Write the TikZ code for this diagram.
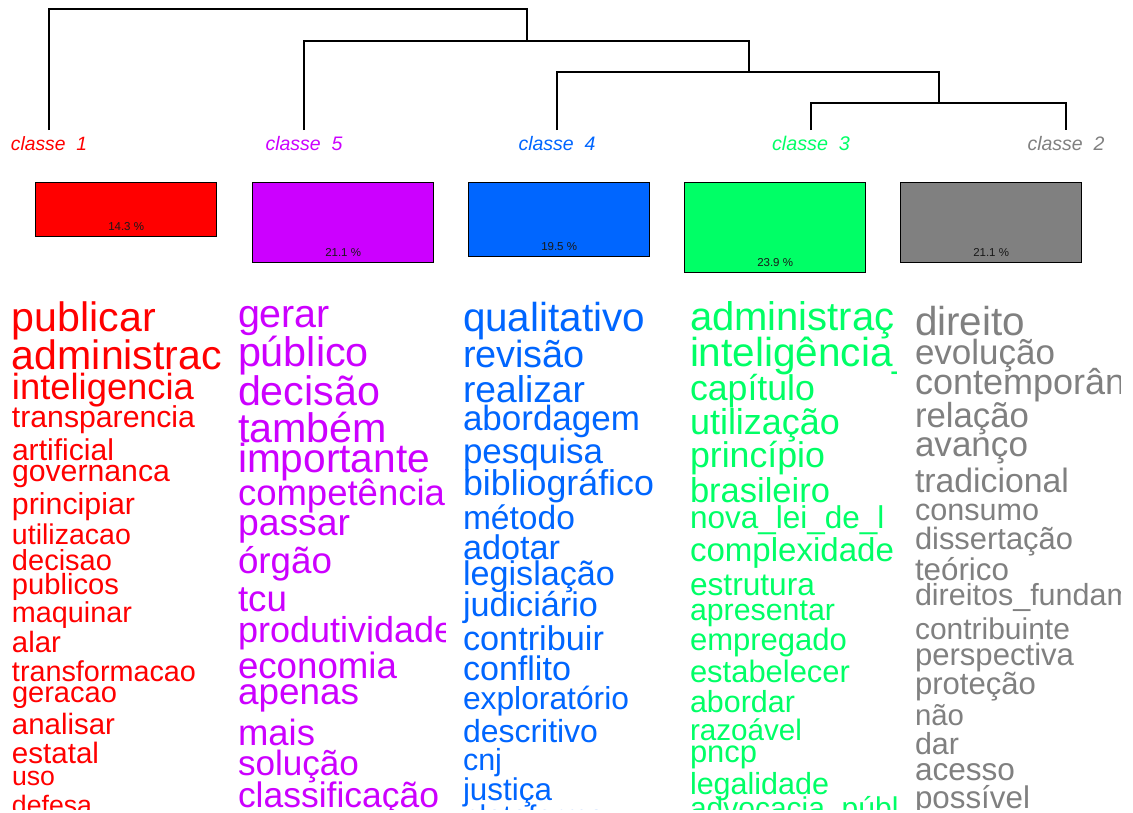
\documentclass[tikz,border=0pt]{standalone}
\usepackage{fontspec}
\setmainfont{Liberation Sans}
\usepackage{graphicx}
\definecolor{c1}{HTML}{FF0000}
\definecolor{c5}{HTML}{CC00FF}
\definecolor{c4}{HTML}{0066FF}
\definecolor{c3}{HTML}{00FF66}
\definecolor{c2}{HTML}{808080}
\newcommand\wrd[5]{\node[word] (#1) at (#2,#3) {\resizebox{#4pt}{!}{#5}};}
\newcommand\wrs[5]{\node[word] (#1) at (#2,#3) {\fontsize{#4}{#4}\selectfont #5};}
\begin{document}
\begin{tikzpicture}[x=1pt,y=-1pt,
  word/.style={inner sep=0pt, outer sep=0pt, anchor=base west, font=\fontsize{20}{24}\selectfont},
  box/.style={draw=black, line width=1.3pt, anchor=north west, inner sep=0pt, minimum width=181pt},
  pct/.style={inner sep=0pt, text=black!90, font=\fontsize{11.5}{12}\selectfont},
  lbl/.style={inner sep=0pt, anchor=base, font=\itshape\fontsize{18}{18}\selectfont},
  dendro/.style={line width=1.3pt, draw=black}]
\fill[white] (0,0) rectangle (1133,812);
\useasboundingbox (0,0) rectangle (1133,812);

% ---- dendrogram ----
\node[lbl,text=c1] (lab1) at (49,150) {\resizebox{76pt}{!}{classe\ \ 1}};
\node[lbl,text=c5] (lab5) at (304,150) {\resizebox{77pt}{!}{classe\ \ 5}};
\node[lbl,text=c4] (lab4) at (557,150) {\resizebox{77pt}{!}{classe\ \ 4}};
\node[lbl,text=c3] (lab3) at (811,150) {\resizebox{78pt}{!}{classe\ \ 3}};
\node[lbl,text=c2] (lab2) at (1066,150) {\resizebox{77pt}{!}{classe\ \ 2}};
\coordinate (t1) at (49,130);
\coordinate (t5) at (304,130);
\coordinate (t4) at (557,130);
\coordinate (t3) at (811,130);
\coordinate (t2) at (1066,130);
\coordinate (jA) at (939,103);
\coordinate (jB) at (749,72);
\coordinate (jC) at (527,41);
\coordinate (jD) at (288,9);
\draw[dendro] (t3) |- (jA) -| (t2);
\draw[dendro] (t4) |- (jB) -| (jA);
\draw[dendro] (t5) |- (jC) -| (jB);
\draw[dendro] (t1) |- (jD) -| (jC);

% ---- boxes ----
\node[box, fill=c1, minimum height=54pt] (box1) at (35,182) {};
\node[box, fill=c5, minimum height=80pt] (box5) at (252,182) {};
\node[box, fill=c4, minimum height=74pt] (box4) at (468,182) {};
\node[box, fill=c3, minimum height=90pt] (box3) at (684,182) {};
\node[box, fill=c2, minimum height=80pt] (box2) at (900,182) {};
\node[pct] (p1) at ([yshift=11pt]box1.south) {14.3 \%};
\node[pct] (p5) at ([yshift=11pt]box5.south) {21.1 \%};
\node[pct] (p4) at ([yshift=11pt]box4.south) {19.5 \%};
\node[pct] (p3) at ([yshift=11pt]box3.south) {23.9 \%};
\node[pct] (p2) at ([yshift=11pt]box2.south) {21.1 \%};

% ---- classe 1 words ----
\begin{scope}[text=c1]
\clip (0,285) rectangle (221,809);
\wrd{r1}{12}{331}{144}{publicar}
\wrd{r2}{12}{369}{210}{administrac}
\wrd{r3}{12}{399}{182}{inteligencia}
\wrd{r4}{12}{427}{183}{transparencia}
\wrd{r5}{12}{460}{102}{artificial}
\wrd{r6}{12}{481}{158}{governanca}
\wrd{r7}{12}{514}{123}{principiar}
\wrd{r8}{12}{544}{119}{utilizacao}
\wrd{r9}{12}{570}{100}{decisao}
\wrd{r10}{12}{594}{107}{publicos}
\wrd{r11}{12}{622}{120}{maquinar}
\wrd{r12}{12}{652}{49}{alar}
\wrd{r13}{12}{681}{184}{transformacao}
\wrd{r14}{12}{702}{105}{geracao}
\wrd{r15}{12}{734}{103}{analisar}
\wrd{r16}{12}{763}{87}{estatal}
\wrd{r17}{12}{785}{43}{uso}
\wrd{r18}{12}{814}{80}{defesa}
\end{scope}

% ---- classe 5 words ----
\begin{scope}[text=c5]
\clip (230,285) rectangle (445,809);
\wrd{v1}{238}{327}{92}{gerar}
\wrd{v2}{238}{366}{131}{público}
\wrd{v3}{238}{405}{142}{decisão}
\wrd{v4}{238}{442}{149}{também}
\wrd{v5}{238}{472}{192}{importante}
\wrd{v6}{238}{505}{207}{competência}
\wrd{v7}{238}{535}{112}{passar}
\wrd{v8}{238}{573}{94}{órgão}
\wrd{v9}{238}{611}{49}{tcu}
\wrs{v10}{238}{642}{36}{produtividade}
\wrd{v11}{238}{678}{159}{economia}
\wrd{v12}{238}{704}{121}{apenas}
\wrd{v13}{238}{745}{77}{mais}
\wrd{v14}{238}{775}{121}{solução}
\wrd{v15}{238}{807}{201}{classificação}
\end{scope}

% ---- classe 4 words ----
\begin{scope}[text=c4]
\clip (455,285) rectangle (670,809);
\wrd{b1}{463}{331}{182}{qualitativo}
\wrd{b2}{463}{367}{122}{revisão}
\wrd{b3}{463}{402}{122}{realizar}
\wrd{b4}{463}{430}{177}{abordagem}
\wrd{b5}{463}{463}{140}{pesquisa}
\wrd{b6}{463}{495}{191}{bibliográfico}
\wrd{b7}{463}{529}{112}{método}
\wrd{b8}{463}{559}{97}{adotar}
\wrd{b9}{463}{585}{152}{legislação}
\wrd{b10}{463}{616}{135}{judiciário}
\wrd{b11}{463}{650}{141}{contribuir}
\wrd{b12}{463}{680}{108}{conflito}
\wrd{b13}{463}{709}{166}{exploratório}
\wrd{b14}{463}{742}{135}{descritivo}
\wrd{b15}{463}{770}{39}{cnj}
\wrd{b16}{463}{800}{89}{justiça}
\wrs{b17}{463}{826}{30}{plataforma}
\end{scope}

% ---- classe 3 words ----
\begin{scope}[text=c3]
\clip (682,285) rectangle (896,809);
\wrs{g1}{690}{330}{40}{administraç}
\wrs{g2}{690}{366}{40.5}{inteligência\_}
\wrd{g3}{690}{400}{125}{capítulo}
\wrd{g4}{690}{434}{150}{utilização}
\wrd{g5}{690}{467}{135}{princípio}
\wrd{g6}{690}{502}{140}{brasileiro}
\wrs{g7}{690}{528}{31.5}{nova\_lei\_de\_l}
\wrd{g8}{690}{561}{204}{complexidade}
\wrd{g9}{690}{595}{125}{estrutura}
\wrd{g10}{690}{620}{145}{apresentar}
\wrd{g11}{690}{650}{157}{empregado}
\wrd{g12}{690}{682}{160}{estabelecer}
\wrd{g13}{690}{712}{105}{abordar}
\wrd{g14}{690}{740}{112}{razoável}
\wrd{g15}{690}{762}{67}{pncp}
\wrd{g16}{690}{794}{139}{legalidade}
\wrs{g17}{690}{818}{30}{advocacia\_pública}
\end{scope}

% ---- classe 2 words ----
\begin{scope}[text=c2]
\clip (905,285) rectangle (1120,809);
\wrd{k1}{915}{335}{110}{direito}
\wrd{k2}{915}{364}{140}{evolução}
\wrs{k3}{915}{394}{36}{contemporâne}
\wrd{k4}{915}{427}{114}{relação}
\wrd{k5}{915}{456}{113}{avanço}
\wrd{k6}{915}{492}{154}{tradicional}
\wrd{k7}{915}{520}{124}{consumo}
\wrd{k8}{915}{549}{158}{dissertação}
\wrd{k9}{915}{580}{94}{teórico}
\wrs{k10}{915}{605}{30.5}{direitos\_fundam}
\wrd{k11}{915}{639}{155}{contribuinte}
\wrd{k12}{915}{665}{159}{perspectiva}
\wrd{k13}{915}{694}{121}{proteção}
\wrd{k14}{915}{725}{49}{não}
\wrd{k15}{915}{754}{44}{dar}
\wrd{k16}{915}{780}{100}{acesso}
\wrd{k17}{915}{808}{115}{possível}
\end{scope}
\end{tikzpicture}
\end{document}
